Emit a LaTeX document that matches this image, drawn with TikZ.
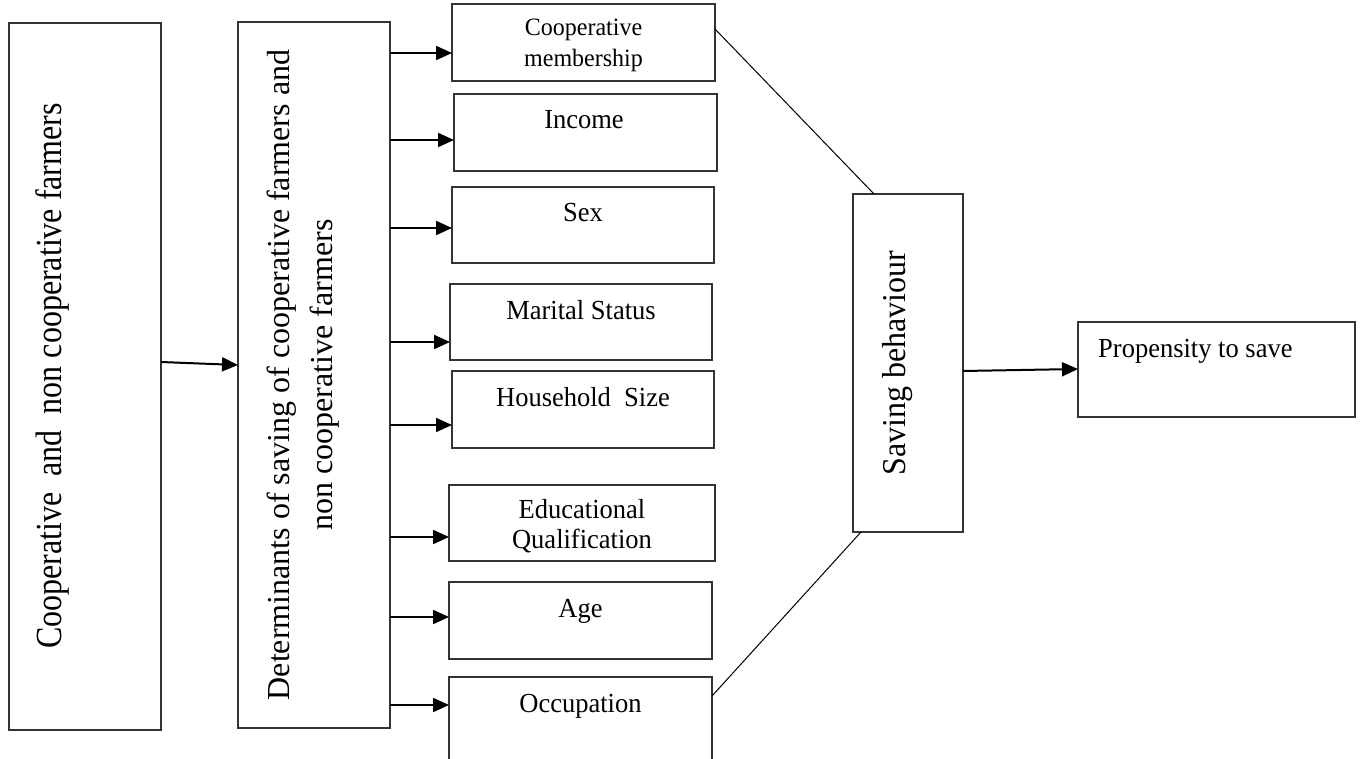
\documentclass[tikz,border=0pt]{standalone}
\usepackage{fontspec}
\setmainfont{Liberation Serif}
\usetikzlibrary{arrows.meta}
\tikzset{
  box/.style={draw=black!80, line width=1.2pt, rectangle, inner sep=0pt, outer sep=0pt, anchor=north west},
  arr/.style={line width=2pt, -{Triangle[length=16pt,width=14pt]}},
  link/.style={line width=1pt, black},
  big/.style={font=\fontsize{32}{40}\selectfont, inner sep=0pt, anchor=base, rotate=90},
  lbl/.style={font=\fontsize{26.5}{30}\selectfont, inner sep=0pt, anchor=base, yscale=1.04},
  slbl/.style={font=\fontsize{24}{28}\selectfont, inner sep=0pt, anchor=base, yscale=1.04}
}
\begin{document}
\begin{tikzpicture}[x=1pt,y=-1pt]
\useasboundingbox (0,0) rectangle (1362,759);
\clip (0,0) rectangle (1362,759);
\fill[white] (0,0) rectangle (1362,759);
% boxes
\node[box, minimum width=152pt, minimum height=707pt] (b1) at (9,23) {};
\node[box, minimum width=152pt, minimum height=706pt] (b2) at (238,22) {};
\node[box, minimum width=263pt, minimum height=77pt] (cm) at (452,4) {};
\node[box, minimum width=263pt, minimum height=77pt] (inc) at (454,94) {};
\node[box, minimum width=262pt, minimum height=76pt] (sex) at (452,187) {};
\node[box, minimum width=262pt, minimum height=76pt] (mar) at (450,284) {};
\node[box, minimum width=262pt, minimum height=77pt] (hh) at (452,371) {};
\node[box, minimum width=266pt, minimum height=76pt] (edu) at (449,485) {};
\node[box, minimum width=263pt, minimum height=77pt] (age) at (449,582) {};
\node[box, minimum width=263pt, minimum height=100pt] (occ) at (449,677) {};
\node[box, minimum width=110pt, minimum height=338pt] (sav) at (853,194) {};
\node[box, minimum width=277pt, minimum height=95pt] (prop) at (1078,322) {};
% texts
\node[big, yscale=1.15] (t1) at (61,376) {Cooperative\ \ and\ \ non cooperative farmers};
\node[big] (t2a) at (289,375) {Determinants of saving of cooperative farmers and};
\node[big] (t2b) at (332,375) {non cooperative farmers};
\node[slbl] (tcm1) at (583.5,36) {Cooperative};
\node[slbl] (tcm2) at (583.5,67) {membership};
\node[lbl] (tinc) at (584,129) {Income};
\node[lbl] (tsex) at (583,222) {Sex};
\node[lbl] (tmar) at (581,319) {Marital Status};
\node[lbl] (thh) at (583,406) {Household\ \ Size};
\node[lbl] (tedu1) at (582,518) {Educational};
\node[lbl] (tedu2) at (582,548) {Qualification};
\node[lbl] (tage) at (580.5,617) {Age};
\node[lbl] (tocc) at (580.5,712) {Occupation};
\node[big, yscale=1.04] (tsav) at (905,363) {Saving behaviour};
\node[lbl, anchor=base west] (tprop) at (1098,357) {Propensity to save};
% arrows
\draw[arr] (b1.east |- 0,362) -- (b2.west |- 0,365);
\draw[arr] (b2.east |- 0,53) -- (cm.west |- 0,53);
\draw[arr] (b2.east |- 0,140) -- (inc.west |- 0,140);
\draw[arr] (b2.east |- 0,228) -- (sex.west |- 0,228);
\draw[arr] (b2.east |- 0,342) -- (mar.west |- 0,342);
\draw[arr] (b2.east |- 0,425) -- (hh.west |- 0,425);
\draw[arr] (b2.east |- 0,537) -- (edu.west |- 0,537);
\draw[arr] (b2.east |- 0,617) -- (age.west |- 0,617);
\draw[arr] (b2.east |- 0,705) -- (occ.west |- 0,705);
\draw[arr] (sav.east |- 0,371) -- (prop.west |- 0,369);
% links
\draw[link] ([yshift=13.5pt]cm.east) -- ([xshift=-34pt]sav.north);
\draw[link] ([yshift=-19pt]occ.north east) -- ([xshift=-47pt]sav.south);
\end{tikzpicture}
\end{document}
